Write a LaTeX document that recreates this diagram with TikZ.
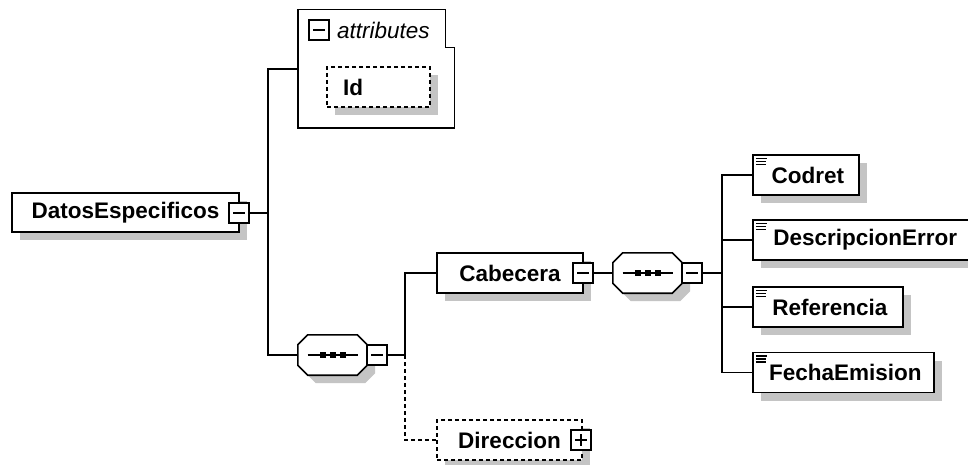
\documentclass[tikz,border=0pt]{standalone}
\usepackage{fontspec}
\setmainfont{Liberation Sans}
\usetikzlibrary{calc,shadows}
\definecolor{shgrey}{HTML}{C4C4C4}
\newcommand\octpath[2]{($(#1.north west)+(10,0)+#2$) -- ($(#1.north east)+(-10,0)+#2$) -- ($(#1.north east)+(0,10)+#2$) -- ($(#1.south east)+(0,-10)+#2$) -- ($(#1.south east)+(-10,0)+#2$) -- ($(#1.south west)+(10,0)+#2$) -- ($(#1.south west)+(0,-10)+#2$) -- ($(#1.north west)+(0,10)+#2$) -- cycle}
\begin{document}
\begin{tikzpicture}[x=1pt,y=-1pt,
  conn/.style={line width=1.6pt, dash pattern=on 4pt off 3pt},
  connsolid/.style={line width=1.6pt},
  shad/.style={drop shadow={shadow xshift=8pt,shadow yshift=-8pt,fill=shgrey,opacity=1}},
  txt/.style={font=\fontsize{22.5}{26}\selectfont\bfseries},
  box/.style={draw, line width=1.6pt, fill=white, minimum height=40pt, inner sep=0pt, txt, shad},
  dbox/.style={box, dash pattern=on 4pt off 3pt},
  elem/.style={box, anchor=west,
    path picture={\draw[line width=1.1pt]
      ($(path picture bounding box.north west)+(3,3.5)$) -- ++(11,0)
      ($(path picture bounding box.north west)+(3,6.5)$) -- ++(10,0)
      ($(path picture bounding box.north west)+(3,9.5)$) -- ++(10,0);}},
  seqnode/.style={minimum width=69pt, minimum height=40pt, inner sep=0pt},
  minusbox/.style={draw, fill=white, line width=1.4pt, minimum size=20pt, inner sep=0pt,
    path picture={\draw[line width=1.4pt] ($(path picture bounding box.west)+(4,0)$) -- ($(path picture bounding box.east)+(-4,0)$);}},
  plusbox/.style={minusbox,
    path picture={\draw[line width=1.4pt] ($(path picture bounding box.west)+(4,0)$) -- ($(path picture bounding box.east)+(-4,0)$)
      ($(path picture bounding box.north)+(0,4)$) -- ($(path picture bounding box.south)+(0,-4)$);}}
]
\clip (0,0) rectangle (968,465);
\fill[white] (0,0) rectangle (968,465);

% junction points
\coordinate (v1) at (268,213);
\coordinate (v2) at (405,355);
\coordinate (v3) at (722,273);

% nodes
\node[box, minimum width=227pt, minimum height=39pt] (datos) at (125.5,212.5) {DatosEspecificos\hspace{6pt}};
\node[minusbox] (dm) at (239,213) {};

\node[minimum width=156pt, minimum height=118pt, inner sep=0pt] (attr) at (376,69) {};
\draw[line width=1.4pt] (attr.north west) -- ($(attr.north east)+(-9,0)$) -- ($(attr.north east)+(-9,38)$) -- ($(attr.north east)+(0,38)$) -- (attr.south east) -- (attr.south west) -- cycle;
\node[minusbox] (am) at (319,30) {};
\node[anchor=west, inner sep=0pt, font=\fontsize{22.5}{26}\selectfont\itshape] (atxt) at (337,30) {attributes};
\node[dbox, minimum width=103pt, text width=71pt, inner xsep=16pt, align=left] (id) at (378.5,87) {Id};

\node[seqnode] (s1) at (332.5,355) {};
\fill[shgrey] \octpath{s1}{(8,8)};
\draw[line width=1.6pt, fill=white] \octpath{s1}{(0,0)};
\draw[line width=1.6pt] ($(s1.center)+(-25,0)$) -- ($(s1.center)+(25,0)$);
\foreach \dx in {-10,0,10} \fill ($(s1.center)+(\dx,0)+(-3,-3)$) rectangle ++(6,6);
\node[minusbox] (s1m) at (377,355) {};

\node[box, minimum width=146pt] (cab) at (510,273) {Cabecera\hspace{6pt}};
\node[minusbox] (cabm) at (583,273) {};

\node[seqnode] (s2) at (647.5,273) {};
\fill[shgrey] \octpath{s2}{(8,8)};
\draw[line width=1.6pt, fill=white] \octpath{s2}{(0,0)};
\draw[line width=1.6pt] ($(s2.center)+(-25,0)$) -- ($(s2.center)+(25,0)$);
\foreach \dx in {-10,0,10} \fill ($(s2.center)+(\dx,0)+(-3,-3)$) rectangle ++(6,6);
\node[minusbox] (s2m) at (692,273) {};

\node[dbox, minimum width=145pt] (dir) at (509.5,440) {Direccion\hspace{10pt}};
\node[plusbox] (dirp) at (581,440) {};

\node[elem, minimum width=106pt] (codret) at (752,175) {\hspace{4pt}Codret};
\node[elem, minimum width=223pt] (desc) at (752,240) {\hspace{2pt}DescripcionError};
\node[elem, minimum width=150pt] (ref) at (752,307) {\hspace{4pt}Referencia};
\node[elem, minimum width=181pt] (fecha) at (752,372.5) {\hspace{4pt}FechaEmision};

% connectors
\draw[connsolid] (dm.east) -- (v1);
\draw[connsolid] (attr.west) -| (v1) |- (s1.west);
\draw[connsolid] (s1m.east) -- (v2);
\draw[connsolid] (v2) |- (cab.west);
\draw[conn] (v2) |- (dir.west);
\draw[connsolid] (cabm.east) -- (s2.west);
\draw[connsolid] (s2m.east) -- (v3);
\draw[connsolid] (codret.west) -| (v3) |- (fecha.west);
\draw[connsolid] (v3) |- (desc.west);
\draw[connsolid] (v3) |- (ref.west);
\end{tikzpicture}
\end{document}
